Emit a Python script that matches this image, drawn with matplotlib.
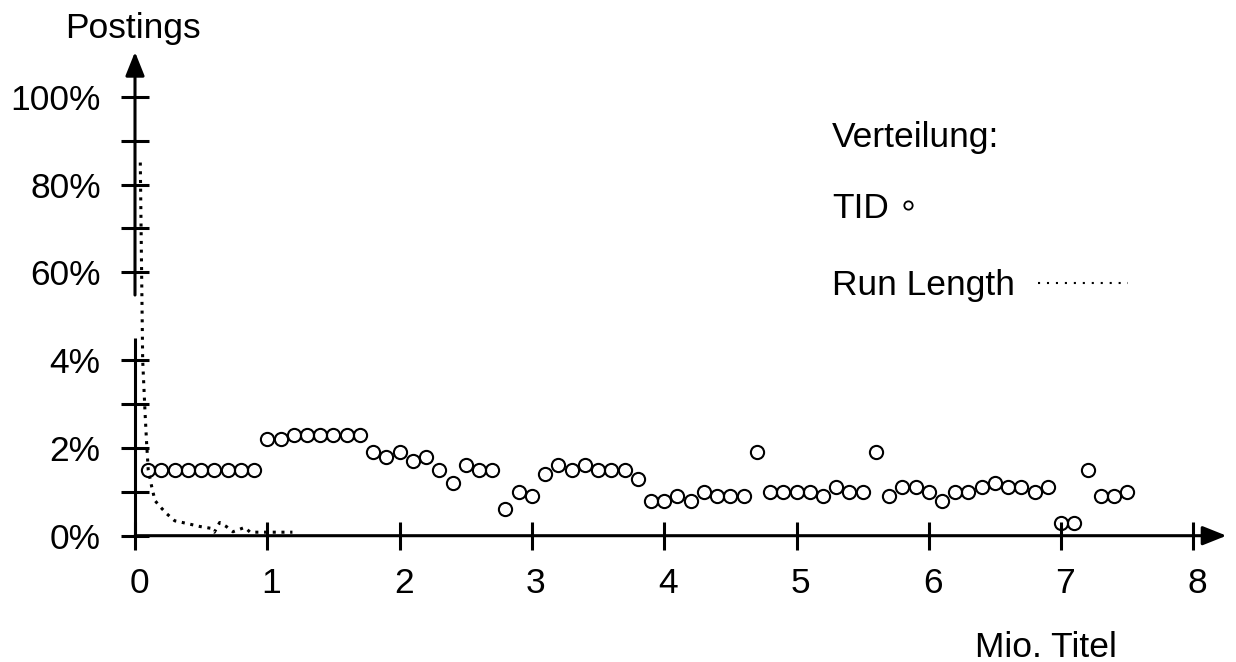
import numpy as np
import matplotlib
matplotlib.use("Agg")
import matplotlib.pyplot as plt
from matplotlib.transforms import ScaledTranslation

plt.rcParams['font.family'] = ['Liberation Sans', 'DejaVu Sans']

# ---------------- data ----------------
tid_x = [0.1, 0.2, 0.3, 0.4, 0.5, 0.6, 0.7, 0.8, 0.9,
         1.0, 1.1, 1.2, 1.3, 1.4, 1.5, 1.6, 1.7, 1.8, 1.9,
         2.0, 2.1, 2.2, 2.3, 2.4, 2.5, 2.6, 2.7, 2.8, 2.9,
         3.0, 3.1, 3.2, 3.3, 3.4, 3.5, 3.6, 3.7, 3.8, 3.9,
         4.0, 4.1, 4.2, 4.3, 4.4, 4.5, 4.6, 4.7, 4.8, 4.9,
         5.0, 5.1, 5.2, 5.3, 5.4, 5.5, 5.6, 5.7, 5.8, 5.9,
         6.0, 6.1, 6.2, 6.3, 6.4, 6.5, 6.6, 6.7, 6.8, 6.9,
         7.0, 7.1, 7.2, 7.3, 7.4, 7.5]
tid_y = [1.5, 1.5, 1.5, 1.5, 1.5, 1.5, 1.5, 1.5, 1.5,
         2.2, 2.2, 2.3, 2.3, 2.3, 2.3, 2.3, 2.3, 1.9, 1.8,
         1.9, 1.7, 1.8, 1.5, 1.2, 1.6, 1.5, 1.5, 0.6, 1.0,
         0.9, 1.4, 1.6, 1.5, 1.6, 1.5, 1.5, 1.5, 1.3, 0.8,
         0.8, 0.9, 0.8, 1.0, 0.9, 0.9, 0.9, 1.9, 1.0, 1.0,
         1.0, 1.0, 0.9, 1.1, 1.0, 1.0, 1.9, 0.9, 1.1, 1.1,
         1.0, 0.8, 1.0, 1.0, 1.1, 1.2, 1.1, 1.1, 1.0, 1.1,
         0.3, 0.3, 1.5, 0.9, 0.9, 1.0]

run_x = [0.04, 0.05, 0.058, 0.076, 0.088, 0.10, 0.126, 0.151, 0.19, 0.24,
         0.30, 0.39, 0.49, 0.57, 0.60, 0.64, 0.69, 0.74, 0.83, 0.87, 1.19]
run_y = [85.0, 60.0, 4.0, 2.8, 2.1, 1.5, 1.12, 0.8, 0.66, 0.5,
         0.34, 0.28, 0.21, 0.17, 0.08, 0.30, 0.21, 0.09, 0.19, 0.08, 0.08]

x_ticks = [0, 1, 2, 3, 4, 5, 6, 7, 8]
y_ticks = [0, 2, 4, 60, 80, 100]
y_tick_labels = ['0%', '2%', '4%', '60%', '80%', '100%']
y_minor = [1, 3, 70, 90]

# --------------- broken y scale ---------------
def fwd(v):
    v = np.asarray(v, dtype=float)
    return np.where(v <= 4, v, np.where(v <= 60, 4 + (v - 4) / 28.0, 6 + (v - 60) / 10.0))

def inv(u):
    u = np.asarray(u, dtype=float)
    return np.where(u <= 4, u, np.where(u <= 6, 4 + (u - 4) * 28.0, 60 + (u - 6) * 10.0))

W, H = 1236, 662
fig = plt.figure(figsize=(W / 100, H / 100), dpi=100)
x0, y0 = 135, 535.7
px_x = 132.3
px_y = 43.9
ax = fig.add_axes([x0 / W, (H - y0) / H, 8.3 * px_x / W, 11.1 * px_y / H])
ax.set_yscale('function', functions=(fwd, inv))
ax.set_xlim(0, 8.3)
ax.set_ylim(0, 111)
for s in ax.spines.values():
    s.set_visible(False)

FS = 25.5
lw_ax = 2.2
ax.set_xticks(x_ticks)
ax.set_xticklabels([str(t) for t in x_ticks], fontsize=FS)
ax.set_yticks(y_ticks)
ax.set_yticklabels(y_tick_labels, fontsize=FS)
ax.set_yticks(y_minor, minor=True)
ax.tick_params(axis='both', which='both', direction='inout', length=19.5, width=lw_ax, color='k')
ax.tick_params(axis='x', pad=12.5)
ax.tick_params(axis='y', pad=15)
ax.xaxis.set_minor_locator(matplotlib.ticker.NullLocator())
shift = ScaledTranslation(4 / 100, 0, fig.dpi_scale_trans)
for lab in ax.get_xticklabels():
    lab.set_transform(lab.get_transform() + shift)

# axes lines with arrows
arrow_style = '-|>,head_length=14.5,head_width=5.8'
ax.annotate('', xy=(8.25, 0), xytext=(0, 0), xycoords='data',
            arrowprops=dict(arrowstyle=arrow_style, lw=lw_ax, color='k',
                            shrinkA=0, shrinkB=0, mutation_scale=1),
            annotation_clip=False)
ax.plot([0, 0], [0, 18], color='k', lw=lw_ax, clip_on=False, solid_capstyle='butt')
ax.annotate('', xy=(0, 110.2), xytext=(0, 45.5), xycoords='data',
            arrowprops=dict(arrowstyle=arrow_style, lw=lw_ax, color='k',
                            shrinkA=0, shrinkB=0, mutation_scale=1),
            annotation_clip=False)

# data
ax.plot(run_x, run_y, color='k', lw=2.2, linestyle=(0, (1, 1.85)), clip_on=False)
ax.plot(tid_x, tid_y, linestyle='none', marker='o', ms=9.5, mfc='none',
        mec='k', mew=1.5, clip_on=False)

# labels
def ftxt(x, y, s, **kw):
    fig.text(x / W, 1 - y / H, s, fontsize=FS, va='baseline', **kw)

ftxt(133, 38, 'Postings', ha='center')
ftxt(975, 657, 'Mio. Titel', ha='left')
ftxt(832, 147, 'Verteilung:', ha='left')
ftxt(832, 218, 'TID', ha='left')
ftxt(832, 295, 'Run Length', ha='left')
fig.lines.append(matplotlib.lines.Line2D([908 / W], [1 - 205 / H], transform=fig.transFigure,
                                         marker='o', ms=6, mfc='none', mec='k', mew=1.3,
                                         linestyle='none'))
fig.lines.append(matplotlib.lines.Line2D([1038 / W, 1128 / W], [1 - 283 / H, 1 - 283 / H],
                                         transform=fig.transFigure, color='k', lw=1.5,
                                         linestyle=(0, (1, 3.3))))

fig.savefig('out.png', dpi=100)
